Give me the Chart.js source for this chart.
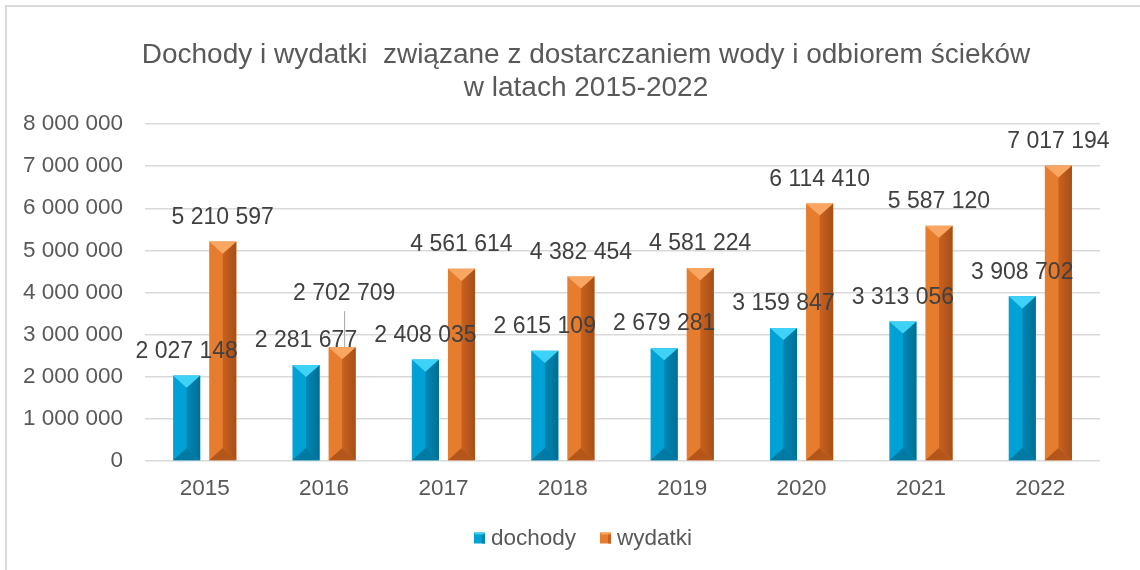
<!DOCTYPE html>
<html lang="pl">
<head>
<meta charset="utf-8">
<title>Dochody i wydatki</title>
<script src="https://cdn.jsdelivr.net/npm/chart.js@4.4.1/dist/chart.umd.min.js"></script>
<style>
  html, body { margin: 0; padding: 0; background: #fff; }
  #wrap { position: relative; width: 1140px; height: 570px; }
  canvas { position: absolute; left: 0; top: 0; }
</style>
</head>
<body>
<div id="wrap"><canvas id="chart" width="1140" height="570"></canvas></div>
<script>
// data
const years = ["2015", "2016", "2017", "2018", "2019", "2020", "2021", "2022"];
const dochody = [2027148, 2281677, 2408035, 2615109, 2679281, 3159847, 3313056, 3908702];
const wydatki = [5210597, 2702709, 4561614, 4382454, 4581224, 6114410, 5587120, 7017194];
const seriesNames = ["dochody", "wydatki"];
const titleLines = ["Dochody i wydatki  związane z dostarczaniem wody i odbiorem ścieków", "w latach 2015-2022"];

const FONT = "'Liberation Sans', Arial, sans-serif";

// bevel colours: main, top, right, bottom
const bevel = [
  { main: "#00a2d6", top: "#3fd2f7", right: "#0087b4", edge: "#006f94", bottom: "#0079a3" },
  { main: "#e67c2e", top: "#f9a662", right: "#c9621f", edge: "#a64f17", bottom: "#b4561a" }
];

function fmt(v) {
  return String(v).replace(/\B(?=(\d{3})+(?!\d))/g, " ");
}

const bevelPlugin = {
  id: "bevel",
  afterDatasetsDraw(chart) {
    const ctx = chart.ctx;
    chart.data.datasets.forEach((ds, di) => {
      const c = bevel[di];
      chart.getDatasetMeta(di).data.forEach(el => {
        const { x, y, base, width } = el.getProps(["x", "y", "base", "width"], true);
        const l = x - width / 2, r = x + width / 2;
        const b = Math.min(width * 0.45, (base - y) / 2);
        ctx.save();
        // right face with gradient
        const g = ctx.createLinearGradient(x, 0, r, 0);
        g.addColorStop(0, c.right);
        g.addColorStop(1, c.edge);
        ctx.fillStyle = g;
        ctx.beginPath();
        ctx.moveTo(r, y); ctx.lineTo(x, y + b); ctx.lineTo(x, base - b); ctx.lineTo(r, base);
        ctx.closePath(); ctx.fill();
        // top facet
        ctx.fillStyle = c.top;
        ctx.beginPath();
        ctx.moveTo(l, y); ctx.lineTo(r, y); ctx.lineTo(x, y + b);
        ctx.closePath(); ctx.fill();
        // bottom facet
        ctx.fillStyle = c.bottom;
        ctx.beginPath();
        ctx.moveTo(l, base); ctx.lineTo(r, base); ctx.lineTo(x, base - b);
        ctx.closePath(); ctx.fill();
        ctx.restore();
      });
    });
  }
};

const labelsPlugin = {
  id: "valueLabels",
  afterDatasetsDraw(chart) {
    const ctx = chart.ctx;
    ctx.save();
    ctx.font = "23px " + FONT;
    ctx.fillStyle = "#404040";
    ctx.textAlign = "center";
    ctx.textBaseline = "middle";
    chart.data.datasets.forEach((ds, di) => {
      chart.getDatasetMeta(di).data.forEach((el, i) => {
        const v = ds.data[i];
        // the 2016 expense label is lifted with a leader line
        if (di === 1 && i === 1) {
          ctx.fillText(fmt(v), el.x + 2, el.y - 53);
          ctx.strokeStyle = "#a6a6a6";
          ctx.lineWidth = 1;
          ctx.beginPath();
          ctx.moveTo(el.x + 2.5, el.y - 36);
          ctx.lineTo(el.x + 2.5, el.y);
          ctx.stroke();
        } else {
          ctx.fillText(fmt(v), el.x, el.y - 24);
        }
      });
    });
    ctx.restore();
  }
};

const decorPlugin = {
  id: "decor",
  beforeDraw(chart) {
    const ctx = chart.ctx;
    ctx.save();
    ctx.fillStyle = "#fff";
    ctx.fillRect(0, 0, chart.width, chart.height);
    ctx.strokeStyle = "#d9d9d9";
    ctx.lineWidth = 2;
    ctx.beginPath();
    ctx.moveTo(6, chart.height); ctx.lineTo(6, 6); ctx.lineTo(chart.width, 6);
    ctx.stroke();
    ctx.restore();
  },
  afterDraw(chart) {
    const ctx = chart.ctx;
    ctx.save();
    // title
    ctx.font = "28px " + FONT;
    ctx.fillStyle = "#595959";
    ctx.textAlign = "center";
    ctx.textBaseline = "middle";
    ctx.fillText(titleLines[0], 586, 55);
    ctx.fillText(titleLines[1], 586, 88);
    // legend
    ctx.font = "22.5px " + FONT;
    ctx.textAlign = "left";
    const box = 11, gap = 6, itemGap = 24;
    const widths = seriesNames.map(n => box + gap + ctx.measureText(n).width);
    const total = widths.reduce((a, b) => a + b, 0) + itemGap * (seriesNames.length - 1);
    let lx = 583 - total / 2;
    const ly = 538;
    seriesNames.forEach((n, i) => {
      const c = bevel[i];
      ctx.fillStyle = c.main;
      ctx.fillRect(lx, ly - box / 2, box, box);
      ctx.fillStyle = c.top;
      ctx.fillRect(lx + 1, ly - box / 2, box - 2, 2);
      ctx.fillStyle = c.right;
      ctx.fillRect(lx + box - 3, ly - box / 2 + 2, 3, box - 2);
      ctx.fillStyle = "#595959";
      ctx.fillText(n, lx + box + gap, ly + 1);
      lx += widths[i] + itemGap;
    });
    ctx.restore();
  }
};

new Chart(document.getElementById("chart"), {
  type: "bar",
  data: {
    labels: years,
    datasets: [
      { label: seriesNames[0], data: dochody, backgroundColor: bevel[0].main },
      { label: seriesNames[1], data: wydatki, backgroundColor: bevel[1].main }
    ]
  },
  options: {
    responsive: false,
    animation: false,
    layout: { padding: { top: 124, right: 40, bottom: 54, left: 0 } },
    datasets: { bar: { categoryPercentage: 0.605, barPercentage: 0.75 } },
    plugins: {
      legend: { display: false },
      title: { display: false },
      tooltip: { enabled: false }
    },
    scales: {
      x: {
        grid: { display: false, drawTicks: false },
        border: { display: false },
        ticks: { color: "#595959", font: { family: FONT, size: 22.5 }, padding: 14 }
      },
      y: {
        min: 0,
        max: 8000000,
        afterFit: s => { s.width = 145; },
        grid: { color: "#d9d9d9", lineWidth: 1.5, drawTicks: false },
        border: { display: false },
        ticks: {
          stepSize: 1000000,
          color: "#595959",
          padding: 22,
          font: { family: FONT, size: 22.5 },
          callback: v => fmt(v)
        }
      }
    }
  },
  plugins: [decorPlugin, bevelPlugin, labelsPlugin]
});
</script>
</body>
</html>
